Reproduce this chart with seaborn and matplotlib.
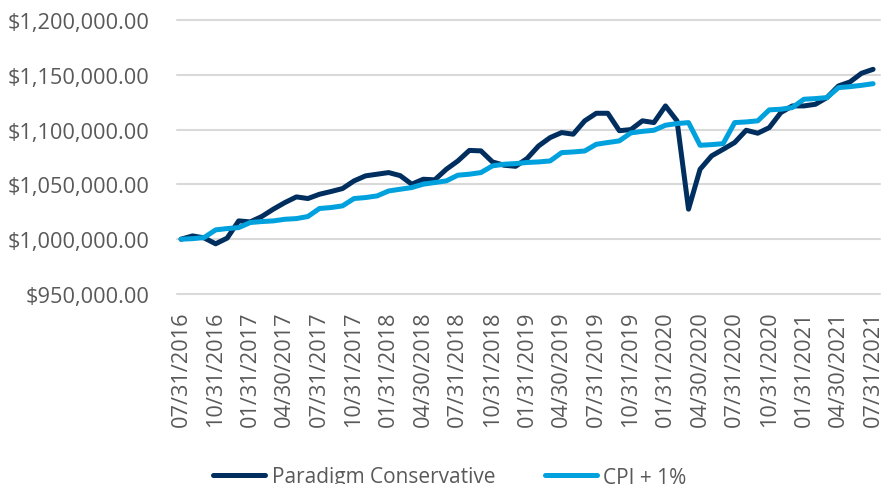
import matplotlib
matplotlib.use('Agg')
import matplotlib.pyplot as plt
import matplotlib.ticker as mticker
import seaborn as sns
import pandas as pd

# month-end dates, 07/31/2016 .. 07/31/2021
datas = pd.date_range('2016-07-31', '2021-07-31', freq='ME')

paradigm = [1000000, 1003000, 1001200, 995800, 1001000, 1016700, 1015800, 1020700, 1027400, 1033400,
            1038600, 1037100, 1041000, 1043500, 1046200, 1053200, 1057800, 1059300, 1060800, 1058000,
            1050200, 1054700, 1054200, 1063800, 1071400, 1081000, 1080600, 1070500, 1067500, 1066500,
            1073600, 1085100, 1092700, 1097300, 1095800, 1108000, 1114900, 1114900, 1099000, 1100000,
            1108000, 1106400, 1121600, 1108000, 1027400, 1063800, 1076000, 1082000, 1088200, 1099400,
            1096700, 1101800, 1115500, 1121600, 1121600, 1123100, 1129200, 1139800, 1143500, 1151400,
            1155000]

cpi = [1000000, 1000500, 1001500, 1008500, 1009700, 1010600, 1015200, 1016100, 1016700, 1018200,
       1018800, 1020700, 1028000, 1028900, 1030400, 1037100, 1038000, 1039500, 1044000, 1045600,
       1047100, 1050200, 1051700, 1053200, 1058400, 1059300, 1060800, 1066900, 1068400, 1069000,
       1070000, 1070500, 1071400, 1079000, 1079600, 1080500, 1086600, 1088200, 1089700, 1097000,
       1098400, 1099400, 1104000, 1105500, 1106400, 1085700, 1086300, 1087200, 1106400, 1107000,
       1108000, 1118000, 1118600, 1120100, 1127700, 1128300, 1129200, 1138300, 1139200, 1140400,
       1141900]

series_nomes = ['Paradigm Conservative', 'CPI + 1%']
cores = ['#002f5f', '#00a1dd']

df = pd.DataFrame({
    'mes': list(range(len(datas))) * 2,
    'valor': paradigm + cpi,
    'serie': [series_nomes[0]] * len(paradigm) + [series_nomes[1]] * len(cpi),
})

sns.set_style('white')
plt.rcParams['font.family'] = ['Open Sans', 'DejaVu Sans']

fig = plt.figure(figsize=(8.81, 4.85), dpi=100)
ax = fig.add_axes([177 / 881, 1 - 295 / 485, 703 / 881, 274 / 485])

sns.lineplot(data=df, x='mes', y='valor', hue='serie', palette=cores,
             linewidth=3.6, ax=ax, legend=True)

ax.set_xlim(-0.35, 60.6)
ax.set_ylim(950000, 1200000)
ax.yaxis.set_major_locator(mticker.MultipleLocator(50000))
ax.yaxis.set_major_formatter(mticker.FuncFormatter(lambda v, p: f'${v:,.2f}'))

ticks = list(range(0, len(datas), 3))
ax.set_xticks(ticks)
ax.set_xticklabels([datas[i].strftime('%m/%d/%Y') for i in ticks], rotation=90)

ax.grid(axis='y', color='#d9d9d9', linewidth=1.5)
ax.grid(axis='x', visible=False)
for gl in ax.get_ygridlines():
    gl.set_clip_on(False)
for s in ax.spines.values():
    s.set_visible(False)

ax.tick_params(axis='both', length=0, labelsize=15.7, labelcolor='#595959')
ax.tick_params(axis='x', pad=12)
ax.tick_params(axis='y', pad=20)
ax.set_xlabel('')
ax.set_ylabel('')

ax.legend(loc='center', bbox_to_anchor=(450 / 881, 1 - 478 / 485), bbox_transform=fig.transFigure,
          ncol=2, frameon=False, fontsize=15, handlelength=2.5, columnspacing=2.4,
          handletextpad=0.3, labelcolor='#595959')

fig.savefig('out.png', dpi=100)
